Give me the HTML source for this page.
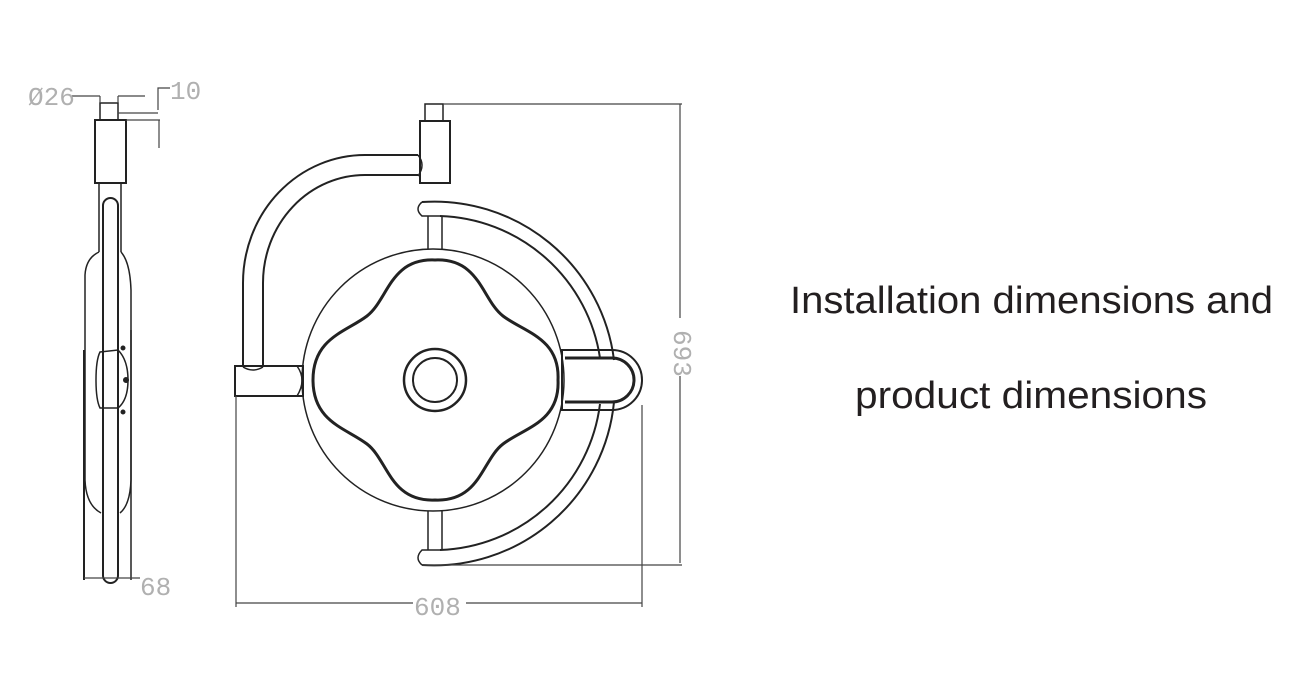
<!DOCTYPE html>
<html><head><meta charset="utf-8"><style>
html,body{margin:0;padding:0;background:#fff;}
svg{display:block;}
</style></head><body>
<svg width="1300" height="686" viewBox="0 0 1300 686" xmlns="http://www.w3.org/2000/svg">
<rect width="1300" height="686" fill="#fff"/>
<g fill="none" stroke="#222" stroke-width="2">
<rect x="100" y="103" width="18" height="17" stroke-width="1.5"/>
<rect x="95" y="120" width="31" height="63"/>
<line x1="99" y1="183" x2="99" y2="252" stroke-width="1.5"/>
<line x1="121" y1="183" x2="121" y2="252" stroke-width="1.5"/>
<path d="M99,252 Q86,258 85,275 L85,480 Q86,505 101,513 M121,252 Q130,262 131,290 L131,480 Q130,505 120,513" stroke-width="1.5"/>
<line x1="84" y1="350" x2="84" y2="580" stroke-width="2"/>
<line x1="131" y1="330" x2="131" y2="580" stroke-width="1.5"/>
<rect x="103" y="198" width="15" height="385" rx="7.5"/>
<path d="M100,352 L118,350 Q128,360 128,380 Q128,400 118,408 L100,408 Q96,400 96,380 Q96,360 100,352 Z" stroke-width="1.5"/>
<circle cx="123" cy="348" r="1.5" fill="#222"/><circle cx="126" cy="380" r="2" fill="#222"/><circle cx="123" cy="412" r="1.5" fill="#222"/>
</g>
<g stroke="#444" stroke-width="1.2" fill="none">
<line x1="72" y1="96" x2="100" y2="96"/><line x1="118" y1="96" x2="145" y2="96"/>
<line x1="100" y1="96" x2="100" y2="103"/><line x1="118" y1="96" x2="118" y2="103"/>
<path d="M158,110 L158,88 L170,88"/><line x1="118" y1="113" x2="158" y2="113"/><line x1="126" y1="120" x2="160" y2="120"/><line x1="159" y1="120" x2="159" y2="148"/>
<line x1="84" y1="578" x2="140" y2="578"/>
</g>
<g font-family="Liberation Mono, DejaVu Sans Mono, monospace" fill="#b0b0b0" font-size="26">
<text x="28" y="105">Ø26</text>
<text x="170" y="99">10</text>
<text x="140" y="595">68</text>
<text x="414" y="615">608</text>
<text transform="translate(674,330) rotate(90)">693</text>
</g>
<g fill="none" stroke="#222" stroke-width="2">
<rect x="425" y="104" width="18" height="17" stroke-width="1.5"/>
<rect x="420" y="121" width="30" height="62"/>
<path d="M418,155 L365,155 A122,128 0 0 0 243,283 L243,367"/>
<path d="M418,175 L365,175 A102,108 0 0 0 263,283 L263,367"/>
<path d="M418,155 Q426,165 418,176" stroke-width="1.5"/>
<path d="M243,367 Q253,373 263,367" stroke-width="1.5"/>
<rect x="235" y="366" width="68" height="30"/>
<path d="M297,366 Q307,380 297,396" stroke-width="1.5"/>
<circle cx="433" cy="380" r="131" stroke-width="1.5"/>
<path d="M435,260 C480,258 482,300 503,316 C524,332 560,338 558,380 C560,422 524,428 503,444 C482,460 480,502 435,500 C390,502 388,460 367,444 C346,428 313,422 313,380 C313,338 346,332 367,316 C388,300 390,258 435,260 Z" stroke-width="3"/>
<circle cx="435" cy="380" r="31" stroke-width="2.5"/>
<circle cx="435" cy="380" r="22" stroke-width="2"/>
<path d="M422,202 A181,181 0 0 1 614,360"/>
<path d="M422,565 A181,181 0 0 0 614,402"/>
<path d="M440,216 A167,167 0 0 1 600,358"/>
<path d="M440,550 A167,167 0 0 0 600,404"/>
<path d="M422,202 Q414,209 422,216 L440,216" stroke-width="1.5"/>
<path d="M422,565 Q414,558 422,550 L440,550" stroke-width="1.5"/>
<line x1="428" y1="216" x2="428" y2="249" stroke-width="1.5"/><line x1="442" y1="216" x2="442" y2="249" stroke-width="1.5"/>
<line x1="428" y1="511" x2="428" y2="550" stroke-width="1.5"/><line x1="442" y1="511" x2="442" y2="550" stroke-width="1.5"/>
<path d="M562,350 L612,350 A30,30 0 0 1 612,410 L562,410 Z"/>
<path d="M565,358 L612,358 A22,22 0 0 1 612,402 L565,402" stroke-width="3"/>
</g>
<g stroke="#444" stroke-width="1.2" fill="none">
<line x1="443" y1="104" x2="682" y2="104"/>
<line x1="680" y1="104" x2="680" y2="318"/><line x1="680" y1="376" x2="680" y2="563"/>
<line x1="422" y1="565" x2="682" y2="565"/>
<line x1="236" y1="396" x2="236" y2="607"/>
<line x1="642" y1="405" x2="642" y2="607"/>
<line x1="236" y1="603" x2="413" y2="603"/><line x1="466" y1="603" x2="642" y2="603"/>
</g>
<g font-family="Liberation Sans, DejaVu Sans, sans-serif" fill="#231f20" font-size="38">
<text x="790" y="313" textLength="483" lengthAdjust="spacingAndGlyphs">Installation dimensions and</text>
<text x="855" y="408" textLength="352" lengthAdjust="spacingAndGlyphs">product dimensions</text>
</g>
</svg>
</body></html>
